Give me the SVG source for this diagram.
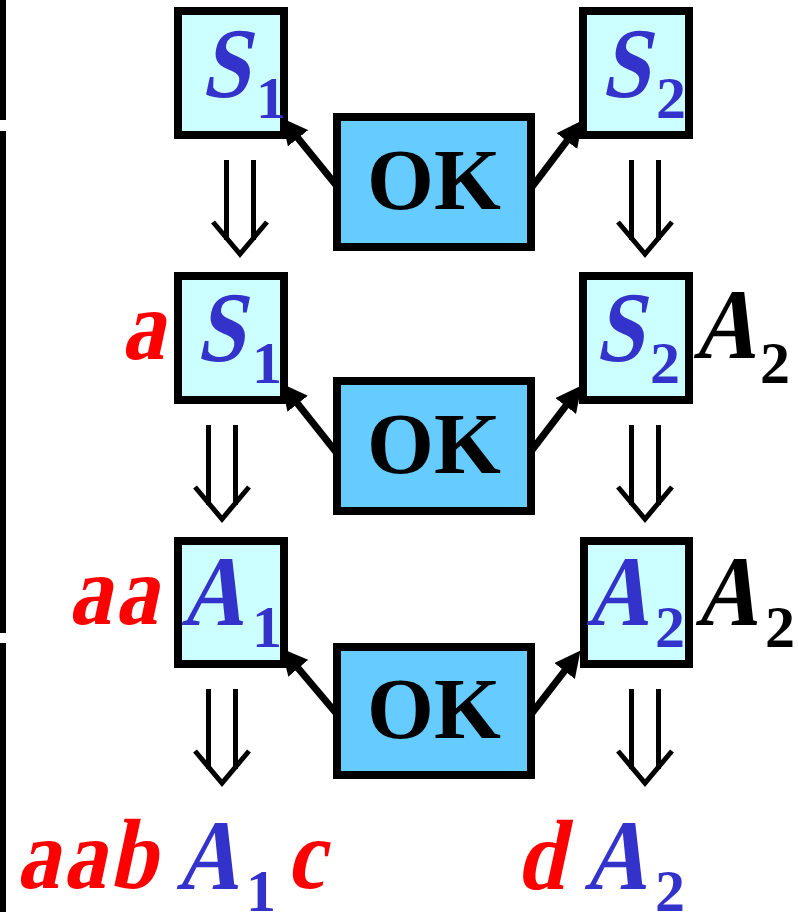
<svg xmlns="http://www.w3.org/2000/svg" width="798" height="912" viewBox="0 0 798 912">
<style>
.box{fill:#CCFFFF;stroke:#000;stroke-width:8}
.ok{fill:#66CCFF;stroke:#000;stroke-width:8}
.okt{font-family:"Liberation Serif","Times New Roman",serif;font-weight:bold;font-size:86px;fill:#000;text-anchor:middle}
.it{font-family:"Liberation Serif","Times New Roman",serif;font-weight:bold;font-size:100px}
.ls{letter-spacing:4px}
.sub{font-family:"Liberation Serif","Times New Roman",serif;font-weight:bold;font-size:60px}
.blue{fill:#3333CC}
.red{fill:#FF0000}
.blk{fill:#000}
.conn{stroke:#000;stroke-width:7;fill:none;marker-end:url(#ah)}
.dd{stroke:#000;stroke-width:5;fill:none;stroke-linejoin:miter}
</style>
<defs>
<marker id="ah" viewBox="0 0 26 26" refX="8" refY="13" markerWidth="26" markerHeight="26" markerUnits="userSpaceOnUse" orient="auto">
<path d="M0,0 L26,13 L0,26 z" fill="#000"/>
</marker>
<path id="darr" class="dd" d="M-13.5,0 V80 M13.5,0 V80 M-27,62 L0,94 L27,62"/>
</defs>
<g id="bars" fill="#000">
<rect x="0" y="0" width="6" height="120"/>
<rect x="0" y="131" width="6" height="502"/>
<rect x="0" y="643" width="6" height="269"/>
</g>
<g id="connectors">
<path class="conn" d="M336,185 L293,132"/>
<path class="conn" d="M532,187 L571.7,134.7"/>
<path class="conn" d="M336,452 L292.7,397.5"/>
<path class="conn" d="M532,450 L570.6,399.7"/>
<path class="conn" d="M336,713 L293.1,662.2"/>
<path class="conn" d="M532,713 L569.5,664.7"/>
<use href="#darr" x="240" y="160"/>
<use href="#darr" x="645" y="160"/>
<use href="#darr" x="222" y="425"/>
<use href="#darr" x="645" y="425"/>
<use href="#darr" x="222" y="689"/>
<use href="#darr" x="645" y="689"/>
</g>
<g id="s1-top">
<rect class="box" x="178" y="11" width="106" height="124"/>
<text class="it blue" transform="translate(201,97) skewX(-12) scale(0.86,1)">S</text>
<text class="sub blue" x="256" y="118">1</text>
</g>
<g id="s2-top">
<rect class="box" x="583" y="11" width="106" height="124"/>
<text class="it blue" transform="translate(601,97) skewX(-12) scale(0.86,1)">S</text>
<text class="sub blue" x="656" y="118">2</text>
</g>
<g id="ok-1">
<rect class="ok" x="337" y="117" width="194" height="130"/>
<text class="okt" x="434" y="209">OK</text>
</g>
<g id="s1-mid">
<rect class="box" x="178" y="276" width="106" height="124"/>
<text class="it red" transform="translate(121,359) skewX(-12) scale(0.86,1)">a</text>
<text class="it blue" transform="translate(196,361) skewX(-12) scale(0.86,1)">S</text>
<text class="sub blue" x="252" y="383">1</text>
</g>
<g id="s2-mid">
<rect class="box" x="583" y="276" width="106" height="124"/>
<text class="it blue" transform="translate(595,361) skewX(-12) scale(0.86,1)">S</text>
<text class="sub blue" x="650" y="383">2</text>
<text class="it blk" transform="translate(693,358) skewX(-12) scale(0.86,1)">A</text>
<text class="sub blk" x="760" y="383">2</text>
</g>
<g id="ok-2">
<rect class="ok" x="337" y="381" width="194" height="130"/>
<text class="okt" x="434" y="473">OK</text>
</g>
<g id="a1-box">
<rect class="box" x="178" y="541" width="106" height="123"/>
<text class="it red ls" transform="translate(68,624) skewX(-12) scale(0.86,1)">aa</text>
<text class="it blue" transform="translate(181,625) skewX(-12) scale(0.86,1)">A</text>
<text class="sub blue" x="252" y="647">1</text>
</g>
<g id="a2-box">
<rect class="box" x="584" y="541" width="105" height="123"/>
<text class="it blue" transform="translate(586,625) skewX(-12) scale(0.86,1)">A</text>
<text class="sub blue" x="655" y="647">2</text>
<text class="it blk" transform="translate(695,625) skewX(-12) scale(0.86,1)">A</text>
<text class="sub blk" x="765" y="647">2</text>
</g>
<g id="ok-3">
<rect class="ok" x="337" y="647" width="194" height="128"/>
<text class="okt" x="434" y="738">OK</text>
</g>
<g id="result-left">
<text class="it red ls" transform="translate(16,888) skewX(-12) scale(0.86,1)">aab</text>
<text class="it blue" transform="translate(176,889) skewX(-12) scale(0.86,1)">A</text>
<text class="sub blue" x="246" y="911">1</text>
<text class="it red" transform="translate(286,888) skewX(-12) scale(0.86,1)">c</text>
</g>
<g id="result-right">
<text class="it red" transform="translate(516,889) skewX(-12) scale(0.86,1)">d</text>
<text class="it blue" transform="translate(584,889) skewX(-12) scale(0.86,1)">A</text>
<text class="sub blue" x="655" y="911">2</text>
</g>
</svg>
